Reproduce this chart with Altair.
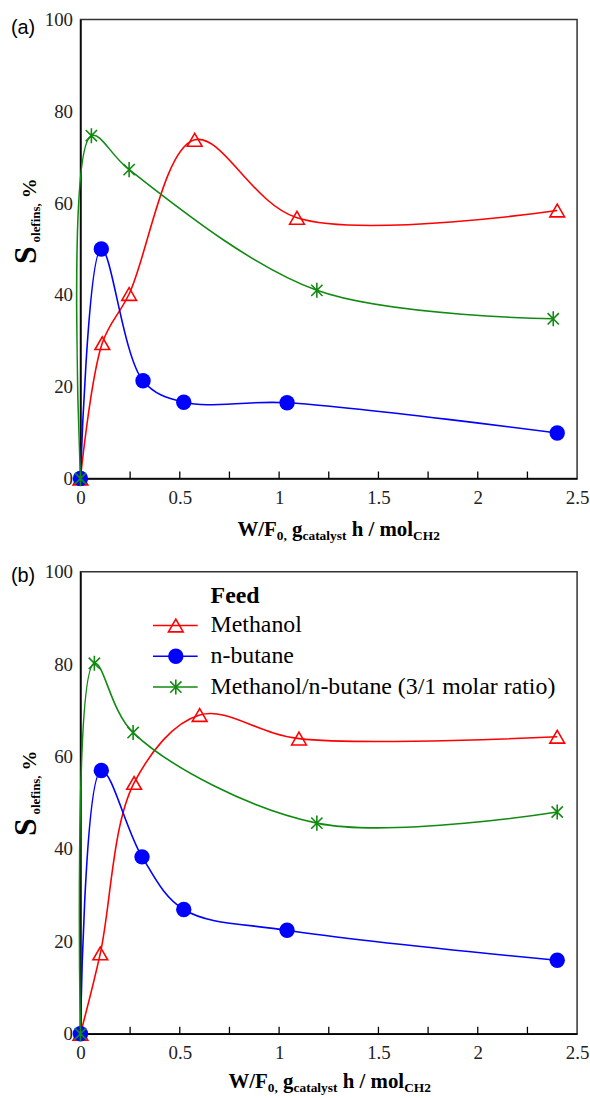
import altair as alt
import pandas as pd

# ---------------- data ----------------
SERIES = ["Methanol", "n-butane", "Methanol/n-butane (3/1 molar ratio)"]
COLORS = ["#ff0000", "#0000ff", "#118a11"]

# panel (a)
A_MEOH_X = [0, 0.11, 0.245, 0.575, 1.09, 2.4]
A_MEOH_Y = [0, 29.5, 40.2, 73.8, 56.8, 58.4]
A_BUT_X = [0, 0.105, 0.315, 0.52, 1.04, 2.4]
A_BUT_Y = [0, 50.0, 21.3, 16.6, 16.5, 9.9]
A_MIX_X = [0, 0.055, 0.245, 1.19, 2.38]
A_MIX_Y = [0, 74.7, 67.3, 41.0, 34.8]

# panel (b)
B_MEOH_X = [0, 0.1, 0.27, 0.6, 1.1, 2.4]
B_MEOH_Y = [0, 17.4, 54.3, 69.0, 63.9, 64.3]
B_BUT_X = [0, 0.105, 0.31, 0.52, 1.04, 2.4]
B_BUT_Y = [0, 57.0, 38.3, 26.9, 22.4, 15.9]
B_MIX_X = [0, 0.07, 0.265, 1.19, 2.4]
B_MIX_Y = [0, 80.2, 65.2, 45.6, 48.0]

X_LABELS = [0, 0.5, 1, 1.5, 2, 2.5]
X_MINOR = [0.25, 0.5, 0.75, 1, 1.25, 1.5, 1.75, 2, 2.25]
Y_LABELS = [0, 20, 40, 60, 80, 100]

SERIF = "'Liberation Serif', 'Times New Roman', Times, serif"
SANS = "'Liberation Sans', Arial, sans-serif"
ASTER = "M0,-1L0,1M-0.75,-0.75L0.75,0.75M-0.75,0.75L0.75,-0.75"

# Times-Bold advance widths (per 1000 em) for composing rich-text titles
TB = {" ": 250, ",": 250, "/": 278, "%": 1000, "0": 500, "2": 500, "C": 722,
      "F": 611, "H": 778, "S": 556, "W": 1000, "a": 500, "c": 444, "e": 444,
      "f": 333, "g": 500, "h": 556, "i": 278, "l": 278, "m": 833, "n": 556,
      "o": 500, "s": 389, "t": 333, "y": 500}


def tw(s, size):
    return sum(TB.get(c, 500) for c in s) * size / 1000.0


ONE = pd.DataFrame({"k": [0]})


def text(s, x, y, size, bold=False, font=SERIF, angle=0, align="left",
         baseline="alphabetic", color="black"):
    kw = dict(text=s, font=font, fontSize=size, align=align, baseline=baseline, color=color)
    if bold:
        kw["fontWeight"] = "bold"
    if angle:
        kw["angle"] = angle
    return alt.Chart(ONE).mark_text(**kw).encode(x=alt.value(x), y=alt.value(y))


def xtitle(x0, yb):
    # (text, font size, baseline shift, leading space in em of this size)
    parts = [("W/F", 21, 0, 0), ("0,", 13.5, 4, 0), ("g", 21, 0, 0.25), ("catalyst", 13.5, 4, 0),
             ("h / mol", 21, 0, 0.25), ("CH2", 13.5, 4, 0)]
    out, x = [], x0
    for s, fs, dy, lead in parts:
        x += lead * fs
        out.append(text(s, x, yb + dy, fs, bold=True))
        x += tw(s, fs)
    return out


def ytitle(xb, y0):
    parts = [("S", 32, 0, 0), ("olefins,", 13, 4, 0.3), ("%", 20, 0, 0.25)]
    out, y = [], y0
    for s, fs, dx, lead in parts:
        y -= lead * fs
        out.append(text(s, xb + dx, y, fs, bold=True, angle=270))
        y -= tw(s, fs)
    return out


def make_df(mx, my, bx, by, gx, gy):
    rows = []
    for name, xs, ys in zip(SERIES, [mx, bx, gx], [my, by, gy]):
        for a, b in zip(xs, ys):
            rows.append({"x": a, "y": b, "s": name})
    return pd.DataFrame(rows)


SIZES = [220, 240, 230]


def panel(df, H, tag, tag_y, xt_x0, yt_y0, legend=False, frame=False):
    X = alt.X("x:Q", scale=alt.Scale(domain=[0, 2.5], nice=False, zero=False),
              axis=alt.Axis(values=X_LABELS, format="~g", title=None, ticks=False, grid=False,
                            labelFont=SERIF, labelFontSize=19, labelPadding=10,
                            labelColor="#222", domainColor="black", domainWidth=1.5,
                            labelFlush=False, labelOverlap=False))
    Y = alt.Y("y:Q", scale=alt.Scale(domain=[0, 100], nice=False),
              axis=alt.Axis(values=Y_LABELS, title=None, ticks=False, grid=False,
                            labelFont=SERIF, labelFontSize=19, labelPadding=8,
                            labelColor="#222", domainColor="black", domainWidth=1.5,
                            labelFlush=False, labelOverlap=False))
    color = alt.Color("s:N", scale=alt.Scale(domain=SERIES, range=COLORS), legend=None)

    layers = []
    if frame:
        layers.append(alt.Chart(ONE).mark_rect(opacity=0).encode(
            x=alt.value(-80), x2=alt.value(510), y=alt.value(-15), y2=alt.value(1083)))
    layers.append(alt.Chart(df).mark_line(interpolate="catmull-rom", strokeWidth=1.6)
                  .encode(X, Y, color))
    layers.append(alt.Chart(pd.DataFrame({"x": X_MINOR})).mark_rule(color="black", strokeWidth=1.3)
                  .encode(X, y=alt.value(H), y2=alt.value(H - 7)))
    layers.append(alt.Chart(df).transform_filter(alt.datum.s == SERIES[0])
                  .mark_point(shape="triangle-up", filled=False, color=COLORS[0], size=SIZES[0],
                              strokeWidth=1.6, opacity=1).encode(X, Y))
    layers.append(alt.Chart(df).transform_filter(alt.datum.s == SERIES[1])
                  .mark_point(shape="circle", filled=True, color=COLORS[1], size=SIZES[1],
                              opacity=1).encode(X, Y))
    layers.append(alt.Chart(df).transform_filter(alt.datum.s == SERIES[2])
                  .mark_point(shape=ASTER, filled=False, color=COLORS[2], size=SIZES[2],
                              strokeWidth=1.6, opacity=1).encode(X, Y))
    layers.append(text(tag, -70, tag_y, 20, font=SANS, baseline="middle"))
    layers += xtitle(xt_x0, 520)
    layers += ytitle(-45, yt_y0)
    if legend:
        layers.append(text("Feed", 131, 24, 24, bold=True, baseline="middle"))
        shapes = [("triangle-up", False), ("circle", True), (ASTER, False)]
        for i, (name, col) in enumerate(zip(SERIES, COLORS)):
            yy = 54 + 31 * i
            layers.append(alt.Chart(ONE).mark_rule(color=col, strokeWidth=1.6).encode(
                x=alt.value(73), x2=alt.value(118), y=alt.value(yy)))
            shp, fil = shapes[i]
            layers.append(alt.Chart(ONE).mark_point(
                shape=shp, filled=fil, color=col, opacity=1, strokeWidth=1.6,
                size=SIZES[i]).encode(x=alt.value(96), y=alt.value(yy)))
            layers.append(text(name, 131, yy, 24, baseline="middle"))
    return alt.layer(*layers).properties(width=500, height=H)


df_a = make_df(A_MEOH_X, A_MEOH_Y, A_BUT_X, A_BUT_Y, A_MIX_X, A_MIX_Y)
df_b = make_df(B_MEOH_X, B_MEOH_Y, B_BUT_X, B_BUT_Y, B_MIX_X, B_MIX_Y)

pa = panel(df_a, 462, "(a)", 8, 158, 246, legend=False, frame=True)
pb = panel(df_b, 465, "(b)", 4, 149, 266, legend=True)

chart = alt.vconcat(pa, pb, spacing=94, bounds="flush").properties(
    padding=0
).configure_view(stroke="#333", strokeWidth=1.5)

chart.save("out.html", embed_options={"renderer": "svg", "actions": False})
